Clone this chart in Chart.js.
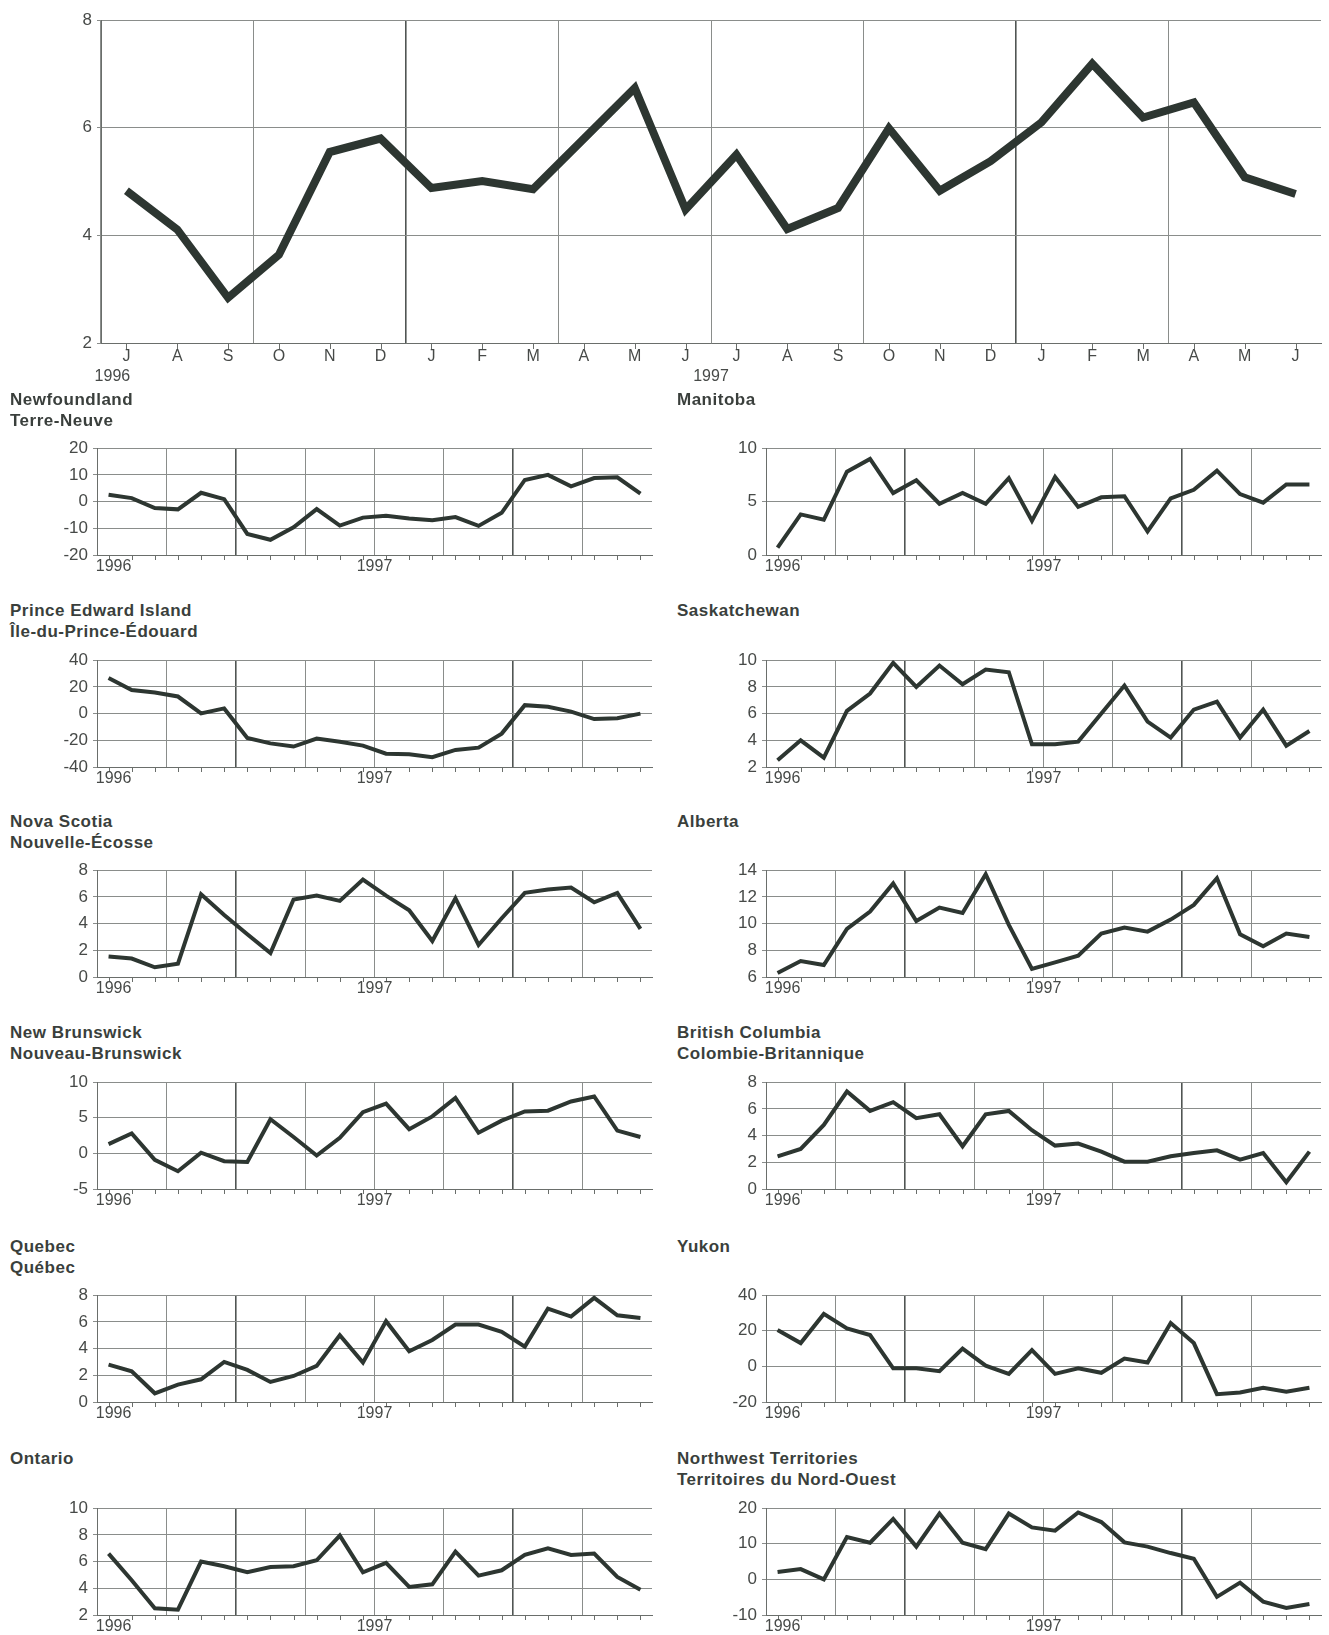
<!DOCTYPE html>
<html>
<head>
<meta charset="utf-8">
<script src="https://cdn.jsdelivr.net/npm/chart.js@4.4.1/dist/chart.umd.min.js"></script>
<style>
  html, body { margin: 0; padding: 0; background: #ffffff; }
  body { width: 1329px; height: 1635px; position: relative; overflow: hidden;
         font-family: "Liberation Sans", Arial, Helvetica, sans-serif; }
  .ttl { position: absolute; font-weight: bold; font-size: 17px; letter-spacing: 0.5px;
         line-height: 21px; color: #3a3f3c; white-space: nowrap; }
  canvas { position: absolute; }
</style>
</head>
<body>
<script>
// ---------------- DATA ----------------
const monthLabels = ['J','A','S','O','N','D','J','F','M','A','M','J','J','A','S','O','N','D','J','F','M','A','M','J'];
const yearLabels = ['1996', '1997'];

const canada = [4.83,4.11,2.84,3.64,5.55,5.80,4.88,5.01,4.86,5.80,6.74,4.48,5.50,4.12,4.51,5.99,4.83,5.38,6.10,7.19,6.19,6.47,5.08,4.77];

const newfoundland = [2.6,1.3,-2.4,-2.9,3.3,0.9,-12.1,-14.3,-9.6,-2.8,-9.0,-6.0,-5.3,-6.3,-7.0,-5.8,-9.1,-4.2,8.1,10.0,5.7,8.8,9.1,3.0];
const princeEdwardIsland = [26.7,17.7,15.8,12.8,0.2,3.9,-18.2,-22.3,-24.7,-18.7,-21.1,-24.0,-30.0,-30.5,-32.7,-27.2,-25.5,-15.0,6.3,5.1,1.5,-4.1,-3.4,0.0];
const novaScotia = [1.53,1.38,0.73,1.0,6.2,4.65,3.2,1.8,5.8,6.1,5.7,7.3,6.1,5.0,2.7,5.9,2.4,4.4,6.3,6.55,6.7,5.6,6.3,3.6];
const newBrunswick = [1.3,2.8,-0.9,-2.5,0.1,-1.1,-1.2,4.8,2.3,-0.3,2.2,5.8,7.0,3.4,5.2,7.8,2.9,4.6,5.9,6.0,7.3,8.0,3.2,2.3];
const quebec = [2.8,2.3,0.65,1.3,1.7,3.0,2.4,1.5,1.95,2.7,5.0,2.95,6.05,3.8,4.65,5.8,5.8,5.25,4.15,7.0,6.4,7.8,6.5,6.3];
const ontario = [6.6,4.6,2.5,2.4,6.0,5.65,5.2,5.6,5.65,6.1,7.95,5.2,5.9,4.1,4.3,6.75,4.95,5.35,6.5,7.0,6.5,6.6,4.85,3.9];
const manitoba = [0.7,3.8,3.3,7.8,9.0,5.8,7.0,4.8,5.8,4.8,7.2,3.2,7.3,4.5,5.4,5.5,2.2,5.3,6.1,7.9,5.7,4.9,6.6,6.6];
const saskatchewan = [2.5,4.0,2.7,6.2,7.5,9.8,8.0,9.6,8.2,9.3,9.1,3.7,3.7,3.9,6.0,8.1,5.4,4.2,6.3,6.9,4.2,6.3,3.6,4.7];
const alberta = [6.3,7.2,6.9,9.6,10.9,13.0,10.2,11.2,10.8,13.7,9.9,6.6,7.1,7.6,9.25,9.7,9.4,10.3,11.4,13.4,9.2,8.3,9.25,9.0];
const britishColumbia = [2.45,3.0,4.8,7.3,5.85,6.5,5.3,5.6,3.2,5.6,5.85,4.4,3.25,3.4,2.8,2.05,2.05,2.45,2.7,2.9,2.2,2.7,0.5,2.8];
const yukon = [20.4,13.1,29.5,21.3,17.6,-1.1,-1.1,-2.7,10.0,0.4,-4.2,9.1,-4.2,-1.1,-3.6,4.4,2.2,24.4,13.1,-15.6,-14.7,-12.0,-14.2,-12.0];
const northwestTerritories = [2.05,2.9,0.0,11.9,10.3,17.0,9.2,18.5,10.3,8.5,18.5,14.6,13.7,18.8,16.1,10.4,9.2,7.4,5.8,-4.9,-0.9,-6.25,-8.0,-6.9];

// ---------------- STYLE ----------------
const LINE = '#2d3631';
const GRID = '#8a8d8b';
const GRID_DARK = '#505553';
const AXIS = '#6a6e6b';
const TXT = '#474a48';
const FONT = '"Liberation Sans", Arial, Helvetica, sans-serif';

const decor = {
  id: 'decor',
  afterDraw(chart, args, o) {
    const { ctx, chartArea: ca } = chart;
    const x = chart.scales.x;
    ctx.save();
    ctx.strokeStyle = o.tickColor;
    ctx.lineWidth = 1;
    const n = chart.data.labels.length;
    for (let i = 0; i < n; i++) {
      const px = Math.round(x.getPixelForValue(i)) + 0.5;
      ctx.beginPath();
      ctx.moveTo(px, ca.bottom);
      ctx.lineTo(px, ca.bottom + o.tickLen);
      ctx.stroke();
    }
    const step = x.getPixelForValue(1) - x.getPixelForValue(0);
    ctx.fillStyle = o.color;
    ctx.font = o.font;
    ctx.textAlign = 'center';
    ctx.textBaseline = 'middle';
    o.years.forEach(y => {
      const base = Math.floor(y.at);
      const px = x.getPixelForValue(base) + (y.at - base) * step + (y.dx || 0);
      ctx.fillText(y.text, px, ca.bottom + o.yearDy);
    });
    ctx.restore();
  }
};

function makeChart(box, values, yMin, yMax, yStep, cfg) {
  const padTop = 12, padRight = 12, yw = cfg.yw || 60, xh = cfg.xh || 34;
  const cv = document.createElement('canvas');
  const w = (box.R - box.L) + yw + padRight;
  const h = (box.B - box.T) + padTop + xh;
  cv.width = w; cv.height = h;
  cv.style.width = w + 'px'; cv.style.height = h + 'px';
  cv.style.left = (box.L - yw) + 'px';
  cv.style.top = (box.T - padTop) + 'px';
  document.body.appendChild(cv);
  new Chart(cv, {
    type: 'line',
    data: {
      labels: monthLabels,
      datasets: [{
        data: values,
        borderColor: LINE,
        borderWidth: cfg.lw,
        pointRadius: 0,
        tension: 0,
        fill: false,
        borderJoinStyle: 'miter',
        borderCapStyle: 'butt'
      }]
    },
    options: {
      responsive: false,
      animation: false,
      events: [],
      layout: { padding: { top: padTop, right: padRight, left: 0, bottom: 0 } },
      plugins: {
        legend: { display: false },
        tooltip: { enabled: false },
        decor: {
          tickLen: cfg.tickLen, tickColor: AXIS, color: TXT,
          font: cfg.yearFont, yearDy: cfg.yearDy, years: cfg.years
        }
      },
      scales: {
        x: {
          type: 'category',
          offset: true,
          grid: {
            offset: true,
            drawTicks: false,
            color: c => (c.index % 3 === 0) ? ((c.index === 6 || c.index === 18) ? GRID_DARK : GRID) : 'rgba(0,0,0,0)',
            lineWidth: c => (c.index === 6 || c.index === 18) ? 1.6 : 1
          },
          border: { color: AXIS, width: 1 },
          ticks: {
            display: !!cfg.months,
            autoSkip: false,
            maxRotation: 0,
            padding: 4,
            color: TXT,
            font: { family: FONT, size: 16 }
          },
          afterFit: s => { s.height = xh; }
        },
        y: {
          min: yMin, max: yMax,
          ticks: { stepSize: yStep, padding: 5, color: TXT, font: { family: FONT, size: cfg.yFont } },
          grid: { color: GRID, lineWidth: 1, drawTicks: true, tickLength: 4 },
          border: { color: AXIS, width: 1 },
          afterFit: s => { s.width = yw; }
        }
      }
    },
    plugins: [decor]
  });
}

function addTitle(x, yc, lines) {
  const d = document.createElement('div');
  d.className = 'ttl';
  d.style.left = x + 'px';
  d.style.top = (yc - 10.5) + 'px';
  d.innerHTML = lines.join('<br>');
  document.body.appendChild(d);
}

// ---------------- MAIN CHART ----------------
makeChart({ L: 101, R: 1321, T: 17, B: 343 }, canada, 2, 8, 2, {
  lw: 8, months: true, yFont: 17, xh: 52, tickLen: 6,
  yearFont: '16px ' + FONT, yearDy: 34,
  years: [{ text: yearLabels[0], at: 0, dx: -14 }, { text: yearLabels[1], at: 11.5 }]
});

// ---------------- SMALL CHARTS ----------------
const rowsT = [445, 657, 867, 1079, 1292, 1505];
const titleY = [399, 610, 821, 1032, 1246, 1458];
const LEFT = { L: 97, R: 652 };
const RIGHT = { L: 766, R: 1321 };
const small = {
  lw: 4, months: false, yFont: 17, xh: 30, tickLen: 5,
  yearFont: '16px ' + FONT, yearDy: 12,
  years: [{ text: yearLabels[0], at: 0, dx: 5 }, { text: yearLabels[1], at: 11.5 }]
};
const panels = [
  { col: LEFT,  row: 0, title: ['Newfoundland', 'Terre-Neuve'], data: newfoundland, min: -20, max: 20, step: 10 },
  { col: LEFT,  row: 1, title: ['Prince Edward Island', 'Île-du-Prince-Édouard'], data: princeEdwardIsland, min: -40, max: 40, step: 20 },
  { col: LEFT,  row: 2, title: ['Nova Scotia', 'Nouvelle-Écosse'], data: novaScotia, min: 0, max: 8, step: 2 },
  { col: LEFT,  row: 3, title: ['New Brunswick', 'Nouveau-Brunswick'], data: newBrunswick, min: -5, max: 10, step: 5 },
  { col: LEFT,  row: 4, title: ['Quebec', 'Québec'], data: quebec, min: 0, max: 8, step: 2 },
  { col: LEFT,  row: 5, title: ['Ontario'], data: ontario, min: 2, max: 10, step: 2 },
  { col: RIGHT, row: 0, title: ['Manitoba'], data: manitoba, min: 0, max: 10, step: 5 },
  { col: RIGHT, row: 1, title: ['Saskatchewan'], data: saskatchewan, min: 2, max: 10, step: 2 },
  { col: RIGHT, row: 2, title: ['Alberta'], data: alberta, min: 6, max: 14, step: 2 },
  { col: RIGHT, row: 3, title: ['British Columbia', 'Colombie-Britannique'], data: britishColumbia, min: 0, max: 8, step: 2 },
  { col: RIGHT, row: 4, title: ['Yukon'], data: yukon, min: -20, max: 40, step: 20 },
  { col: RIGHT, row: 5, title: ['Northwest Territories', 'Territoires du Nord-Ouest'], data: northwestTerritories, min: -10, max: 20, step: 10 }
];
panels.forEach(p => {
  const T = rowsT[p.row];
  makeChart({ L: p.col.L, R: p.col.R, T: T, B: T + 110 }, p.data, p.min, p.max, p.step, small);
  addTitle(p.col === LEFT ? 10 : 677, titleY[p.row], p.title);
});
</script>
</body>
</html>
